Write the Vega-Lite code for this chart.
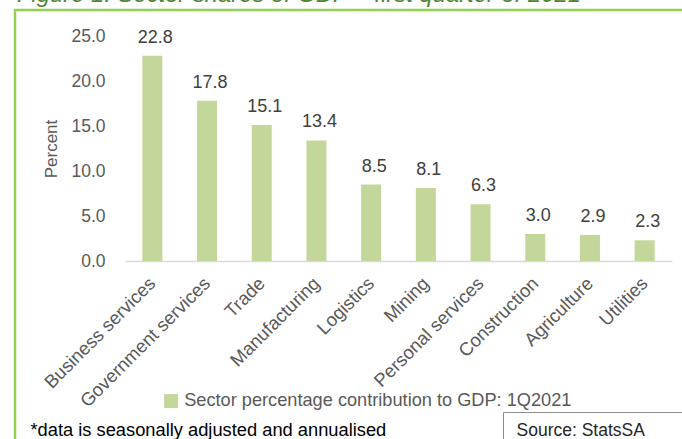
{
  "$schema": "https://vega.github.io/schema/vega-lite/v6.json",
  "autosize": "none",
  "width": 667,
  "height": 429,
  "padding": {"left": 15, "top": 10, "right": 0, "bottom": 0},
  "background": "white",
  "view": {"stroke": "#92d050", "strokeWidth": 2.5, "strokeDash": [667, 1096, 429, 20], "fill": "white"},
  "config": {"font": "Liberation Sans"},
  "title": {
    "text": "Figure 1: Sector shares of GDP – first quarter of 2021",
    "anchor": "start",
    "frame": "group",
    "orient": "top",
    "baseline": "alphabetic",
    "offset": -15.5,
    "dx": 2,
    "fontSize": 23.8,
    "fontStyle": "italic",
    "fontWeight": "normal",
    "color": "#548235"
  },
  "data": {
    "values": [
      {"sector": "Business services", "value": 22.8},
      {"sector": "Government services", "value": 17.8},
      {"sector": "Trade", "value": 15.1},
      {"sector": "Manufacturing", "value": 13.4},
      {"sector": "Logistics", "value": 8.5},
      {"sector": "Mining", "value": 8.1},
      {"sector": "Personal services", "value": 6.3},
      {"sector": "Construction", "value": 3.0},
      {"sector": "Agriculture", "value": 2.9},
      {"sector": "Utilities", "value": 2.3}
    ]
  },
  "encoding": {
    "x": {
      "field": "sector",
      "type": "nominal",
      "sort": null,
      "scale": {"range": [110, 657], "paddingInner": 0.634, "paddingOuter": 0.317},
      "axis": {
        "title": "*data is seasonally adjusted and annualised",
        "titleX": 15,
        "titleY": 174,
        "titleAngle": 0,
        "titleAlign": "left",
        "titleBaseline": "alphabetic",
        "titleColor": "#000000",
        "titleFontSize": 18.3,
        "titleFontWeight": "normal",
        "offset": -178,
        "domainColor": "#d9d9d9",
        "domainWidth": 1.5,
        "ticks": false,
        "tickSize": 0,
        "grid": false,
        "labelAngle": -45,
        "labelAlign": "right",
        "labelBaseline": "middle",
        "labelPadding": 19,
        "labelFontSize": 18.5,
        "labelColor": "#595959",
        "labelOverlap": false,
        "labelLimit": 300
      }
    },
    "y": {
      "field": "value",
      "type": "quantitative",
      "scale": {"domain": [0, 25], "range": [251, 26], "nice": false, "zero": true},
      "axis": {
        "title": "Percent",
        "titleFontSize": 17,
        "titleFontWeight": "normal",
        "titleColor": "#595959",
        "titlePadding": 10,
        "values": [0, 5, 10, 15, 20, 25],
        "format": ".1f",
        "offset": -110,
        "domain": false,
        "ticks": false,
        "tickSize": 0,
        "grid": false,
        "labelPadding": 20,
        "labelFontSize": 17.5,
        "labelColor": "#595959"
      }
    }
  },
  "layer": [
    {
      "mark": {"type": "bar"},
      "encoding": {
        "color": {
          "datum": "Sector percentage contribution to GDP: 1Q2021",
          "type": "nominal",
          "scale": {"range": ["#c4d79b"]},
          "legend": {
            "title": null,
            "orient": "none",
            "legendX": 147,
            "legendY": 382,
            "padding": 0,
            "symbolType": "square",
            "symbolSize": 196,
            "symbolStrokeWidth": 0,
            "labelFontSize": 18.2,
            "labelColor": "#595959",
            "labelLimit": 600,
            "labelOffset": 4
          }
        }
      }
    },
    {
      "mark": {"type": "text", "baseline": "alphabetic", "dy": -13, "dx": 3, "fontSize": 18, "color": "#404040"},
      "encoding": {
        "text": {"field": "value", "type": "quantitative", "format": ".1f"},
        "opacity": {
          "datum": "Source: StatsSA",
          "type": "ordinal",
          "scale": {"range": [1, 1]},
          "legend": {
            "title": null,
            "orient": "none",
            "legendX": 488,
            "legendY": 402,
            "padding": 10,
            "strokeColor": "#8c8c8c",
            "fillColor": "white",
            "symbolSize": 1,
            "symbolOpacity": 0,
            "symbolStrokeWidth": 0,
            "symbolOffset": 300,
            "labelOffset": -314,
            "labelFontSize": 17.5,
            "labelColor": "#262626",
            "labelLimit": 600
          }
        }
      }
    }
  ]
}
